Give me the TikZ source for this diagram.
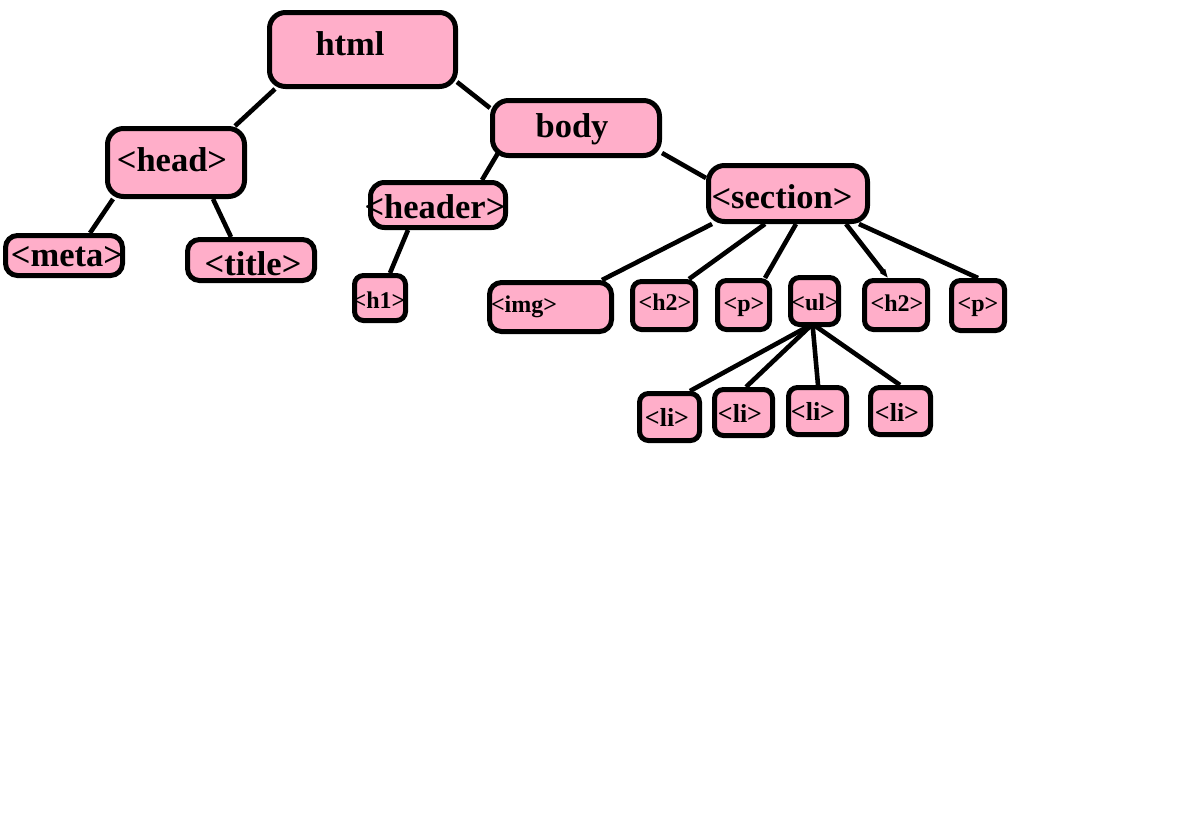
\documentclass[tikz,border=0pt]{standalone}
\usepackage{fontspec}
\setmainfont{Liberation Serif}
\usetikzlibrary{calc,arrows.meta}
\definecolor{rose}{RGB}{255,174,201}
\tikzset{
  box/.style={draw=black, fill=rose, line width=5pt, rounded corners=#1, inner sep=0pt},
  box/.default=14pt,
  big/.style={inner sep=0pt, font=\fontsize{34.5}{40}\selectfont\bfseries},
  small/.style={inner sep=0pt, font=\fontsize{24}{28}\selectfont\bfseries},
  litext/.style={inner sep=0pt, font=\fontsize{26}{30}\selectfont\bfseries},
  link/.style={line width=4.6pt, draw=black},
}
\begin{document}
\begin{tikzpicture}[x=1pt,y=-1pt]
\useasboundingbox (0,0) rectangle (1196,814);
\fill[white] (0,0) rectangle (1196,814);

% boxes
\node[box=16pt, minimum width=186pt, minimum height=74pt] (html) at (362.5,49.5) {};
\node[box=16pt, minimum width=137pt, minimum height=68pt] (head) at (176,162.5) {};
\node[box=12pt, minimum width=117pt, minimum height=40pt] (meta) at (64,255.5) {};
\node[box=12pt, minimum width=127pt, minimum height=41pt] (title) at (251,260) {};
\node[box=16pt, minimum width=167pt, minimum height=55pt] (body) at (576,128) {};
\node[box=14pt, minimum width=135pt, minimum height=45pt] (header) at (438,205) {};
\node[box=9pt, minimum width=51pt, minimum height=45pt] (h1) at (380,298) {};
\node[box=16pt, minimum width=159pt, minimum height=56pt] (section) at (788,193.5) {};
\node[box=12pt, minimum width=122pt, minimum height=49pt] (img) at (550.5,307) {};
\node[box=9pt, minimum width=63pt, minimum height=48pt] (h2a) at (664,305.5) {};
\node[box=9pt, minimum width=52pt, minimum height=49pt] (pa) at (743.5,305) {};
\node[box=9pt, minimum width=48pt, minimum height=47pt] (ul) at (814.5,301) {};
\node[box=9pt, minimum width=63pt, minimum height=49pt] (h2b) at (896,305) {};
\node[box=9pt, minimum width=53pt, minimum height=50pt] (pb) at (978,305.5) {};
\node[box=9pt, minimum width=60pt, minimum height=47pt] (li1) at (669.5,417) {};
\node[box=9pt, minimum width=58pt, minimum height=46pt] (li2) at (743.5,412.5) {};
\node[box=9pt, minimum width=58pt, minimum height=47pt] (li3) at (817.5,411) {};
\node[box=9pt, minimum width=60pt, minimum height=47pt] (li4) at (900.5,411) {};

% connectors
\draw[link] ($(html.south west)+(8,0)$) -- ($(head.north east)+(-12,0)$);
\draw[link] ($(html.south east)+(-1,-7)$) -- ($(body.north west)+(0,10)$);
\draw[link] ($(head.south west)+(8,0)$) -- ($(meta.north west)+(87,0)$);
\draw[link] ($(head.south west)+(108,0)$) -- ($(title.north west)+(46,0)$);
\draw[link] ($(body.south west)+(8,-5)$) -- ($(header.north east)+(-26,0)$);
\draw[link] ($(body.south east)+(0,-5)$) -- ($(section.north west)+(0,15)$);
\draw[link] ($(header.south west)+(40,0)$) -- ($(h1.north west)+(38,0)$);
\draw[link] ($(section.south west)+(6,0)$) -- ($(img.north east)+(-12,0)$);
\draw[link] ($(section.south west)+(59,0)$) -- ($(h2a.north east)+(-9,0)$);
\draw[link] ($(section.south west)+(90,0)$) -- ($(pa.north east)+(-7,0)$);
\draw[link, -{Triangle[length=9pt,width=6pt]}] ($(section.south west)+(140,0)$) -- ($(h2b.north west)+(26,0)$);
\draw[link] ($(section.south east)+(-11,0)$) -- ($(pb.north west)+(29,0)$);
\draw[link] ($(ul.south)+(-2,-3)$) -- ($(li1.north east)+(-12,0)$);
\draw[link] ($(ul.south)+(-2,-3)$) -- ($(li2.north west)+(34,0)$);
\draw[link] ($(ul.south)+(-2,-3)$) -- ($(li3.north west)+(32,0)$);
\draw[link] ($(ul.south)+(-2,-3)$) -- ($(li4.north west)+(32,0)$);

% texts
\node[big] (html-t) at (350,43.5) {html};
\node[big] (head-t) at (172,160) {<head>};
\node[big] (meta-t) at (67,257) {<meta>};
\node[big] (title-t) at (253,264) {<title>};
\node[big] (body-t) at (572,129) {body};
\node[big] (header-t) at (435,207) {<header>};
\node[big] (section-t) at (782,197) {<section>};
\node[small] (h1-t) at (379,300) {<h1>};
\node[small] (img-t) at (524,307) {<img>};
\node[small] (h2a-t) at (665,302) {<h2>};
\node[small] (pa-t) at (744,307) {<p>};
\node[small] (ul-t) at (815,302) {<ul>};
\node[small] (h2b-t) at (897,303) {<h2>};
\node[small] (pb-t) at (978,307) {<p>};
\node[litext] (li1-t) at (667,417) {<li>};
\node[litext] (li2-t) at (740,413) {<li>};
\node[litext] (li3-t) at (813,411) {<li>};
\node[litext] (li4-t) at (897,412) {<li>};
\end{tikzpicture}
\end{document}
